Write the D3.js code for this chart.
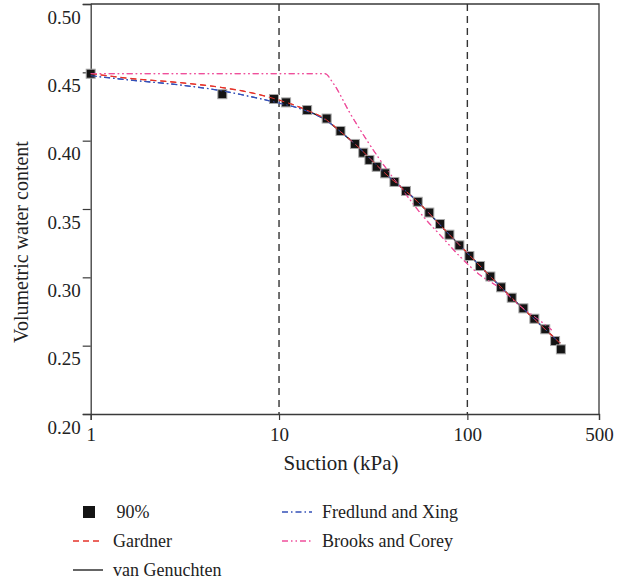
<!DOCTYPE html>
<html>
<head>
<meta charset="utf-8">
<script src="https://cdn.jsdelivr.net/npm/d3@7"></script>
<style>
  body { margin: 0; background: #fff; }
  svg { display: block; font-family: "Liberation Serif", "Times New Roman", serif; }
</style>
</head>
<body>
<div id="chart"></div>
<script>
// measured points (90%)
var suction = [1, 5.0, 9.4, 10.9, 14.1, 17.9, 21.2, 25.3, 28.0, 30.2, 33.0, 36.6, 41.0, 47.2, 54.5,
  62.8, 71.6, 80.3, 90.7, 102.5, 116.8, 132.5, 151, 172, 198.4, 226.9, 259.2, 292.3, 313.8]
var theta = [0.449, 0.434, 0.4305, 0.428, 0.4224, 0.4162, 0.4071, 0.3976, 0.3912, 0.3859, 0.3809, 0.3761,
  0.3698, 0.3632, 0.3553, 0.3474, 0.339, 0.3312, 0.3234, 0.3156, 0.3083, 0.3006, 0.2927, 0.2851,
  0.2773, 0.2697, 0.262, 0.2534, 0.2473]

// fitted curves
var gardnerS = [1, 1.6, 3, 4.9, 6.7, 9.3, 14, 17.9, 20.9, 25.3, 36.6, 54.5, 80.3, 116.8, 172, 259, 311]
var gardnerT = [0.449, 0.4456, 0.4424, 0.439, 0.4358, 0.431, 0.4224, 0.4151, 0.4073, 0.3976, 0.3761,
  0.3553, 0.3312, 0.3083, 0.2851, 0.262, 0.2517]

var fredlundS = [1, 1.6, 3, 4.9, 6.7, 9.3, 14, 17.9, 20.9, 25.3, 36.6, 54.5, 80.3, 116.8, 172, 259, 311]
var fredlundT = [0.4475, 0.4444, 0.4407, 0.4366, 0.4329, 0.4285, 0.4217, 0.4146, 0.4073, 0.3976, 0.3761,
  0.3553, 0.3312, 0.3083, 0.2851, 0.262, 0.2517]

// van Genuchten only shows where the fits merge
var vgS = [14, 17.9, 20.9, 25.3, 36.6, 54.5, 80.3, 116.8, 172, 259, 311]
var vgT = [0.4220, 0.4148, 0.4073, 0.3976, 0.3761, 0.3553, 0.3312, 0.3083, 0.2851, 0.262, 0.2517]

var brooksS = [1, 17.5, 19.4, 23.8, 29.2, 34.4, 46.7, 58.4, 73.1, 91.5, 116.8, 149.2, 183, 253.2, 280.7]
var brooksT = [0.449, 0.449, 0.442, 0.4202, 0.4005, 0.3859, 0.3615, 0.3444, 0.3297, 0.3151, 0.3017,
  0.292, 0.281, 0.2664, 0.2615]

var xMajor = [1, 10, 100, 500]
var xMinor = [2, 3, 4, 5, 6, 7, 8, 9, 20, 30, 40, 50, 60, 70, 80, 90, 200, 300, 400]
var yMajor = [0.20, 0.25, 0.30, 0.35, 0.40, 0.45, 0.50]
var yMinor = [0.225, 0.275, 0.325, 0.375, 0.425, 0.475]
var refLines = [10, 100]

var width = 628, height = 582
var margin = {top: 4, right: 29, bottom: 168, left: 90.7}

var svg = d3.select("#chart").append("svg")
  .attr("width", width)
  .attr("height", height)

var x = d3.scaleLog()
  .domain([1, 500])
  .range([margin.left, width - margin.right])

var y = d3.scaleLinear()
  .domain([0.2, 0.5])
  .range([height - margin.bottom, margin.top])

var axisColor = "#3a3a3a"

// frame top / right
svg.append("path")
  .attr("d", `M${x(1)},${y(0.5)}H${x(500)}V${y(0.2)}`)
  .attr("fill", "none")
  .attr("stroke", axisColor)
  .attr("stroke-width", 1.3)

// vertical reference lines
svg.append("g").selectAll("line")
  .data(refLines)
  .join("line")
    .attr("x1", d => x(d)).attr("x2", d => x(d))
    .attr("y1", y(0.5)).attr("y2", y(0.2))
    .attr("stroke", "#333")
    .attr("stroke-width", 1.4)
    .attr("stroke-dasharray", "7,5")

// x axis
var gx = svg.append("g")
  .attr("transform", `translate(0,${y(0.2)})`)
gx.call(d3.axisBottom(x).tickValues(xMinor).tickSize(3).tickFormat(""))
gx.call(d3.axisBottom(x).tickValues(xMajor).tickSize(6).tickPadding(8).tickFormat(d3.format("d")))
gx.selectAll(".domain").attr("stroke", axisColor).attr("stroke-width", 1.3)
gx.selectAll(".tick line").attr("stroke", axisColor).attr("stroke-width", 1.2)
gx.selectAll("text")
  .attr("font-family", "Liberation Serif")
  .attr("font-size", 19)
  .attr("fill", "#222")

// y axis
var gy = svg.append("g")
  .attr("transform", `translate(${x(1)},0)`)
gy.call(d3.axisLeft(y).tickValues(yMinor).tickSize(4).tickFormat(""))
gy.call(d3.axisLeft(y).tickValues(yMajor).tickSize(8).tickPadding(2).tickFormat(d3.format(".2f")))
gy.selectAll(".domain").attr("stroke", axisColor).attr("stroke-width", 1.3)
gy.selectAll(".tick line").attr("stroke", axisColor).attr("stroke-width", 1.2)
gy.selectAll("text")
  .attr("font-family", "Liberation Serif")
  .attr("font-size", 19)
  .attr("fill", "#222")
  .attr("dy", "1em")

// axis titles
svg.append("text")
  .attr("x", 341)
  .attr("y", 470)
  .attr("text-anchor", "middle")
  .attr("font-size", 21)
  .attr("fill", "#222")
  .text("Suction (kPa)")

svg.append("text")
  .attr("transform", "translate(28,242) rotate(-90)")
  .attr("text-anchor", "middle")
  .attr("font-size", 20)
  .attr("fill", "#222")
  .text("Volumetric water content")

// curves
var line = d3.line()
  .x(d => x(d[0]))
  .y(d => y(d[1]))
  .curve(d3.curveMonotoneX)

var curves = [
  {name: "van Genuchten", s: vgS, t: vgT, color: "#111", dash: null},
  {name: "Fredlund and Xing", s: fredlundS, t: fredlundT, color: "#3450b8", dash: "6,3,1.5,3"},
  {name: "Gardner", s: gardnerS, t: gardnerT, color: "#e5332a", dash: "6,4"},
  {name: "Brooks and Corey", s: brooksS, t: brooksT, color: "#ef4f9c", dash: "6,3,1.5,3,1.5,3"}
]

var plot = svg.append("g")

curves.forEach(c => {
  plot.append("path")
    .datum(d3.zip(c.s, c.t))
    .attr("fill", "none")
    .attr("stroke", c.color)
    .attr("stroke-width", 1.3)
    .attr("stroke-dasharray", c.dash)
    .attr("d", line)
})

// data squares
var sq = 9
svg.append("g").selectAll("rect")
  .data(d3.zip(suction, theta))
  .join("rect")
    .attr("x", d => x(d[0]) - sq / 2)
    .attr("y", d => y(d[1]) - sq / 2)
    .attr("width", sq)
    .attr("height", sq)
    .attr("fill", "#141414")
    .attr("stroke", "#a8a8a8")
    .attr("stroke-width", 1)

// thin copies of the fits over the squares, as in the source
var over = svg.append("g")
curves.slice(1).forEach(c => {
  over.append("path")
    .datum(d3.zip(c.s, c.t))
    .attr("fill", "none")
    .attr("stroke", c.color)
    .attr("stroke-width", 1)
    .attr("stroke-dasharray", c.dash)
    .attr("d", line)
})

// legend
var legend = svg.append("g").attr("font-size", 18).attr("fill", "#222")
var rowY = [512, 541, 570]

legend.append("rect")
  .attr("x", 83).attr("y", rowY[0] - 6)
  .attr("width", 12).attr("height", 12)
  .attr("fill", "#141414")
legend.append("text").attr("x", 116.5).attr("y", rowY[0]).attr("dy", "0.35em").text("90%")

var legendItems = [
  {c: curves[2], lx: 73, ly: rowY[1]},
  {c: curves[0], lx: 73, ly: rowY[2]},
  {c: curves[1], lx: 282, ly: rowY[0]},
  {c: curves[3], lx: 282, ly: rowY[1]}
]

legendItems.forEach(it => {
  legend.append("line")
    .attr("x1", it.lx).attr("x2", it.lx + 30)
    .attr("y1", it.ly).attr("y2", it.ly)
    .attr("stroke", it.c.color)
    .attr("stroke-width", 1.3)
    .attr("stroke-dasharray", it.c.dash)
  legend.append("text")
    .attr("x", it.lx + 40)
    .attr("y", it.ly)
    .attr("dy", "0.35em")
    .text(it.c.name)
})
</script>
</body>
</html>
